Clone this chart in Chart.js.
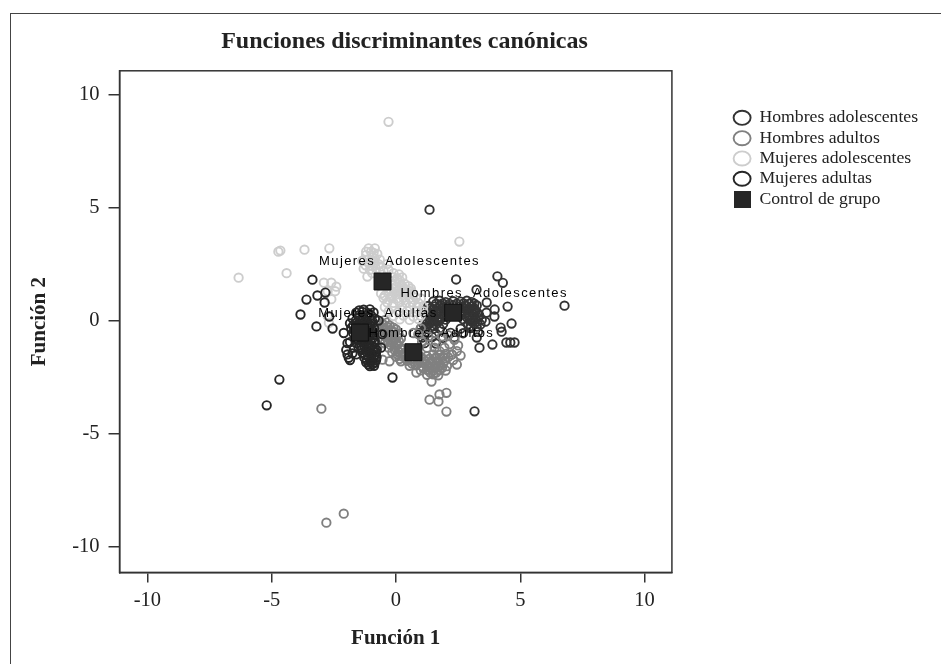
<!DOCTYPE html>
<html>
<head>
<meta charset="utf-8">
<title>Funciones discriminantes canónicas</title>
<script src="https://cdn.jsdelivr.net/npm/chart.js@4"></script>
<style>
  html, body { margin: 0; padding: 0; background: #fff; overflow: hidden; }
  #marco { position: absolute; left: 10px; top: 13px; width: 1000px; height: 700px; border: 1.5px solid #444; }
  #grafico { position: absolute; left: 0; top: 0; }
</style>
</head>
<body>
<div id="marco"></div>
<canvas id="grafico" width="941" height="664"></canvas>
<script>
const titulo = "Funciones discriminantes canónicas";
const tituloX = "Función 1";
const tituloY = "Función 2";
const ticksX = [-10, -5, 0, 5, 10];
const ticksY = [-10, -5, 0, 5, 10];

const hombresAdolescentes = [
  [1.35,4.91],[2.42,1.82],[3.24,1.37],[4.08,1.96],[4.3,1.67],[3.65,0.8],[3.97,0.49],[4.49,0.62],[3.96,0.18],[4.65,-0.13],
  [4.21,-0.31],[4.25,-0.49],[3.88,-1.06],[3.36,-1.2],[4.44,-0.97],[4.6,-0.97],[4.77,-0.97],[6.78,0.66],[3.64,0.35],[3.3,-0.5],
  [3.16,-4.02],[3.6,-0.05],
  [1.5,0.85],[1.75,0.88],[2.0,0.82],[2.3,0.86],[2.6,0.84],[2.85,0.88],[3.05,0.82],
  [1.3,0.65],[1.55,0.62],[1.8,0.67],[2.05,0.64],[2.3,0.66],[2.55,0.63],[2.8,0.66],[3.05,0.62],[3.25,0.67],
  [1.2,0.45],[1.45,0.47],[1.7,0.43],[1.95,0.46],[2.2,0.44],[2.45,0.47],[2.7,0.43],[2.95,0.46],[3.2,0.44],
  [1.2,0.25],[1.42,0.22],[1.65,0.27],[1.9,0.24],[2.15,0.26],[2.4,0.23],[2.65,0.27],[2.9,0.24],[3.15,0.26],[3.35,0.23],
  [1.25,0.05],[1.5,0.03],[1.75,0.07],[2.0,0.04],[2.7,0.06],[2.95,0.03],[3.2,0.07],[3.45,0.04],
  [1.1,-0.15],[1.35,-0.13],[1.6,-0.17],[1.9,-0.14],[2.9,-0.16],[3.15,-0.13],[3.4,-0.17],
  [1.0,-0.35],[1.2,-0.33],[1.5,-0.37],[1.75,-0.34],[2.6,-0.36],[3.0,-0.33],
  [0.95,-0.55],[1.3,-0.53],[1.6,-0.57],[2.2,-0.54],[2.7,-0.56],[3.25,-0.75],
  [1.05,-0.75],[1.45,-0.73],[1.9,-0.77],[2.35,-0.74],[1.15,-1.0],[1.6,-1.02],
  [1.62,0.75],[1.88,0.76],[2.15,0.74],[2.45,0.75],[2.72,0.76],[2.95,0.74],[3.15,0.75],[1.42,0.55],[1.68,0.54],[1.92,0.56],
  [2.18,0.55],[2.42,0.54],[2.68,0.56],[2.92,0.55],[3.15,0.54],[1.32,0.35],[1.58,0.36],[1.82,0.34],[2.08,0.35],[2.32,0.36],
  [2.55,0.34],[2.8,0.35],[3.05,0.36],[3.28,0.34],[1.32,0.14],[1.55,0.15],[1.85,0.13],[2.85,0.15],[3.08,0.14],[3.3,0.13],
  [1.22,-0.04],[1.48,-0.05],[1.72,-0.03],[3.05,-0.05],[3.28,-0.04],[3.0,-0.25],[3.25,-0.27],[1.25,-0.24],[1.5,-0.25]
];
const hombresAdultos = [
  [-2.8,-8.95],[-2.1,-8.55],[-3.0,-3.9],[1.35,-3.5],[1.75,-3.27],[2.03,-3.2],[1.71,-3.58],[2.03,-4.03],[1.43,-2.7],[0.82,-2.3],
  [-0.54,-1.73],[-0.26,-1.8],[-0.75,-1.2],
  [-0.7,0.0],[-0.45,0.02],[-0.75,-0.2],[-0.5,-0.18],[-0.25,-0.22],
  [-0.7,-0.4],[-0.45,-0.38],[-0.2,-0.42],[0.0,-0.39],[-0.65,-0.6],[-0.4,-0.58],[-0.15,-0.62],[0.1,-0.59],
  [-0.55,-0.8],[-0.3,-0.78],[-0.05,-0.82],[0.2,-0.79],[-0.45,-1.0],[-0.2,-0.98],[0.05,-1.02],
  [-0.3,-1.2],[-0.05,-1.18],[0.2,-1.22],[-0.15,-1.4],[0.1,-1.38],[0.35,-1.42],
  [0.0,-1.6],[0.25,-1.58],[0.5,-1.62],[0.75,-1.59],[1.0,-1.61],[1.25,-1.58],
  [0.2,-1.8],[0.45,-1.78],[0.7,-1.82],[0.95,-1.79],[1.2,-1.81],[1.45,-1.78],[1.7,-1.82],[1.95,-1.79],
  [0.55,-2.0],[0.8,-1.98],[1.05,-2.02],[1.3,-1.99],[1.55,-2.01],[1.8,-1.98],[2.05,-2.02],
  [1.0,-2.2],[1.25,-2.18],[1.5,-2.22],[1.75,-2.19],[2.0,-2.21],[1.25,-2.4],[1.5,-2.38],[1.7,-2.42],
  [1.5,-1.5],[1.75,-1.52],[2.0,-1.48],[2.25,-1.51],
  [1.6,-0.9],[1.85,-0.7],[2.1,-0.65],[2.35,-0.85],[2.5,-1.1],[2.45,-1.35],[2.25,-1.5],[1.95,-1.2],[2.15,-1.05],[1.75,-1.35],
  [1.55,-1.2],[2.6,-1.55],[2.3,-1.75],[2.45,-1.95],[1.3,-0.7],[1.05,-0.95],[1.25,-1.2],[0.9,-0.6],[1.0,-0.35],[0.7,-0.55],
  [-0.58,-0.1],[-0.35,-0.09],[-0.6,-0.3],[-0.35,-0.28],[-0.1,-0.31],[-0.55,-0.5],[-0.3,-0.49],[-0.05,-0.51],[-0.45,-0.7],[-0.2,-0.69],
  [0.05,-0.71],[-0.32,-0.9],[-0.1,-0.89],[0.12,-0.91],[-0.2,-1.1],[0.05,-1.09],[-0.05,-1.3],[0.2,-1.29],[0.05,-1.5],[0.3,-1.49],
  [0.15,-1.7],[0.4,-1.69],[0.62,-1.71],[0.88,-1.7],[1.1,-1.7],[1.35,-1.69],[1.6,-1.68],[0.65,-1.9],[0.9,-1.89],[1.15,-1.91],
  [1.4,-1.9],[1.65,-1.89],[1.9,-1.9],[1.1,-2.1],[1.35,-2.09],[1.6,-2.11],[1.85,-2.1],[1.38,-2.3],[1.62,-2.3],[1.62,-1.62],
  [1.88,-1.61],[2.1,-1.62]
];
const mujeresAdolescentes = [
  [-0.3,8.8],[-6.33,1.9],[-4.73,3.05],[-4.65,3.1],[-3.68,3.14],[-2.68,3.2],[-4.4,2.1],[2.55,3.5],
  [-2.9,1.68],[-2.6,1.68],[-2.45,1.3],[-2.6,0.95],[-2.75,0.2],[-2.7,-0.1],[-2.4,1.5],[-2.75,1.3],
  [-1.1,3.2],[-1.0,3.05],[-0.85,3.2],[-1.2,2.9],[-0.95,2.8],[-0.75,2.95],[-1.35,2.65],[-1.1,2.55],[-0.85,2.55],[-0.65,2.7],
  [-1.3,2.3],[-1.05,2.25],[-0.8,2.3],[-0.6,2.4],[-0.5,2.2],[-1.15,1.95],[-0.35,2.5],
  [-0.4,1.9],[-0.15,1.92],[0.05,1.88],[0.25,1.91],[-0.05,1.65],[0.15,1.67],[0.35,1.63],
  [-0.1,1.4],[0.15,1.42],[0.4,1.38],[0.6,1.41],[-0.6,1.2],[-0.3,1.18],[-0.05,1.22],[0.2,1.19],[0.45,1.21],[0.7,1.18],
  [-0.5,1.0],[-0.2,1.02],[0.05,0.98],[0.3,1.01],[0.55,0.99],[0.8,1.02],[1.0,0.98],
  [-0.35,0.8],[-0.1,0.78],[0.15,0.82],[0.4,0.79],[0.65,0.81],[0.9,0.78],
  [-0.45,0.6],[-0.15,0.62],[0.25,0.58],[0.55,0.61],[0.85,0.59],[1.1,0.62],
  [-0.3,0.4],[0.1,0.38],[0.45,0.42],[0.8,0.39],[1.1,0.41],[-0.1,0.2],[0.3,0.22],[0.7,0.18],[1.0,0.21],[0.15,0.05],[0.55,0.03],[0.9,0.07],
  [-1.2,3.05],[-0.9,3.0],[-1.1,2.72],[-0.85,2.75],[-1.22,2.45],[-0.95,2.42],[-0.7,2.5],[-0.95,2.1],[-0.65,2.15],[-0.3,2.25],
  [-0.1,2.1],[0.12,2.05],[0.15,1.78],[0.0,1.5],[0.25,1.53],[0.5,1.52],[-0.2,1.3],[0.05,1.3],[0.32,1.3],[0.58,1.3],[-0.45,1.1],[-0.15,1.1]
];
const mujeresAdultas = [
  [-3.36,1.81],[-2.84,1.24],[-3.16,1.11],[-3.6,0.93],[-2.87,0.8],[-3.84,0.27],[-2.68,0.18],[-3.2,-0.26],[-2.55,-0.35],[-2.1,-0.55],
  [-4.69,-2.61],[-5.2,-3.75],[-0.14,-2.52],
  [-1.6,0.35],[-1.35,0.38],[-1.1,0.33],[-0.9,0.36],[-1.75,0.1],[-1.5,0.12],[-1.3,0.08],[-1.05,0.11],[-0.85,0.09],
  [-1.85,-0.12],[-1.6,-0.1],[-1.4,-0.14],[-1.15,-0.11],[-0.95,-0.13],[-1.8,-0.33],[-1.55,-0.31],[-1.3,-0.35],[-1.08,-0.32],[-0.88,-0.34],
  [-1.72,-0.55],[-1.45,-0.53],[-1.22,-0.57],[-1.0,-0.54],[-1.63,-0.78],[-1.38,-0.76],[-1.15,-0.8],[-0.92,-0.77],
  [-1.6,-1.0],[-1.32,-0.98],[-1.1,-1.02],[-0.88,-0.99],[-1.5,-1.2],[-1.27,-1.18],[-1.03,-1.22],[-0.85,-1.19],
  [-1.35,-1.42],[-1.18,-1.4],[-0.98,-1.44],[-0.8,-1.41],[-1.28,-1.63],[-1.1,-1.61],[-0.9,-1.65],[-0.78,-1.62],
  [-1.2,-1.85],[-1.02,-1.83],[-0.85,-1.87],[-1.05,-2.02],[-0.88,-2.0],
  [-1.95,-1.0],[-2.0,-1.3],[-1.9,-1.65],[-1.95,-1.5],[-1.85,-1.75],[-1.85,-0.95],[-1.7,-1.2],[-1.75,-1.45],[-1.6,-1.5],
  [-0.55,-0.6],[-0.6,-1.2],[-0.7,0.0],
  [-1.48,0.24],[-1.22,0.22],[-1.0,0.23],[-1.62,0.0],[-1.4,-0.02],[-1.18,-0.01],[-0.95,-0.02],[-1.72,-0.22],[-1.5,-0.23],[-1.28,-0.24],
  [-1.05,-0.22],[-1.68,-0.44],[-1.42,-0.43],[-1.2,-0.45],[-0.98,-0.44],[-1.6,-0.66],[-1.35,-0.65],[-1.1,-0.67],[-0.92,-0.65],[-1.5,-0.88],
  [-1.25,-0.89],[-1.02,-0.88],[-0.85,-0.9],[-1.45,-1.1],[-1.2,-1.09],[-0.97,-1.11],[-1.38,-1.3],[-1.15,-1.31],[-0.92,-1.3],[-0.78,-1.3],
  [-1.25,-1.52],[-1.02,-1.51],[-0.85,-1.53],[-1.18,-1.74],[-0.97,-1.74],[-0.8,-1.75],[-1.1,-1.95],[-0.95,-1.93],[-1.3,0.48],[-1.05,0.5],[-1.48,0.45]
];
const centroides = [[2.3,0.35],[0.7,-1.4],[-0.54,1.73],[-1.45,-0.53]];
const nombresCentroides = ["Hombres  Adolescentes", "Hombres  Adultos", "Mujeres  Adolescentes", "Mujeres  Adultas"];

function aPuntos(lista) {
  return lista.map(function (p) { return { x: p[0], y: p[1] }; });
}

function serie(label, datos, color, orden) {
  return {
    label: label,
    data: aPuntos(datos),
    borderColor: color,
    backgroundColor: "transparent",
    borderWidth: 1.9,
    pointStyle: "circle",
    pointRadius: 4.2,
    order: orden,
  };
}

// Cuadrado de la leyenda para "Control de grupo"
const cuadroLeyenda = document.createElement("canvas");
cuadroLeyenda.width = 17;
cuadroLeyenda.height = 17;
const ctxCuadro = cuadroLeyenda.getContext("2d");
ctxCuadro.fillStyle = "#262626";
ctxCuadro.fillRect(0, 0, 17, 17);

// Caja del area de trazado y etiquetas de los centroides
const desfaseEtiquetas = [[31, -19], [18, -19], [17, -20], [18, -19]];
const cajaYEtiquetas = {
  id: "cajaYEtiquetas",
  afterLayout: function (chart) {
    // La leyenda queda separada del area de trazado
    const ancho = chart.legend.right - chart.legend.left;
    chart.legend.left = 731;
    chart.legend.right = 731 + ancho;
    // El titulo se centra sobre el grafico, no sobre todo el lienzo
    chart.titleBlock.left -= 43.5;
    chart.titleBlock.right -= 43.5;
  },
  afterDatasetsDraw: function (chart) {
    const ctx = chart.ctx;
    const a = chart.chartArea;
    ctx.save();
    ctx.strokeStyle = "#333";
    ctx.lineWidth = 1.5;
    ctx.strokeRect(a.left, a.top, a.right - a.left, a.bottom - a.top);
    ctx.fillStyle = "#000";
    ctx.font = '13px "Liberation Sans"';
    ctx.letterSpacing = "1.4px";
    ctx.textAlign = "center";
    ctx.textBaseline = "middle";
    nombresCentroides.forEach(function (nombre, i) {
      const px = chart.scales.x.getPixelForValue(centroides[i][0]);
      const py = chart.scales.y.getPixelForValue(centroides[i][1]);
      ctx.fillText(nombre, px + desfaseEtiquetas[i][0], py + desfaseEtiquetas[i][1]);
    });
    ctx.restore();
  },
};

new Chart(document.getElementById("grafico"), {
  type: "scatter",
  data: {
    datasets: [
      serie("Hombres adolescentes", hombresAdolescentes, "#333333", 4),
      serie("Hombres adultos", hombresAdultos, "#808080", 3),
      serie("Mujeres adolescentes", mujeresAdolescentes, "#cdcdcd", 2),
      serie("Mujeres adultas", mujeresAdultas, "#262626", 1),
      {
        label: "Control de grupo",
        data: aPuntos(centroides),
        borderColor: "#111",
        backgroundColor: "#262626",
        borderWidth: 1,
        pointStyle: "rect",
        pointRadius: 12,
        order: 0,
      },
    ],
  },
  options: {
    responsive: false,
    animation: false,
    layout: { padding: { left: 27, right: 72, top: 0, bottom: 13 } },
    plugins: {
      tooltip: { enabled: false },
      title: {
        display: true,
        text: titulo,
        color: "#222",
        font: { family: "Liberation Serif", size: 24, weight: "bold" },
        padding: { top: 27, bottom: 15 },
      },
      legend: {
        position: "right",
        align: "start",
        title: { display: true, text: "", padding: 46, font: { size: 12 } },
        labels: {
          usePointStyle: true,
          pointStyleWidth: 17,
          boxHeight: 10,
          padding: 2.6,
          color: "#222",
          font: { family: "Liberation Serif", size: 17.7 },
          sort: function (a, b) { return a.datasetIndex - b.datasetIndex; },
          generateLabels: function (chart) {
            const items = Chart.defaults.plugins.legend.labels.generateLabels(chart);
            items.forEach(function (item) {
              if (item.text === "Control de grupo") {
                item.pointStyle = cuadroLeyenda;
              }
            });
            return items;
          },
        },
      },
    },
    scales: {
      x: {
        type: "linear",
        min: -11.12,
        max: 11.1,
        afterBuildTicks: function (axis) {
          axis.ticks = ticksX.map(function (v) { return { value: v }; });
        },
        grid: { drawOnChartArea: false, tickLength: 10, color: "#333", lineWidth: 1.5 },
        border: { color: "#333", width: 1.5 },
        ticks: { color: "#222", padding: 6, maxRotation: 0, font: { family: "Liberation Serif", size: 20.5 } },
        title: {
          display: true,
          text: tituloX,
          color: "#222",
          font: { family: "Liberation Serif", size: 21, weight: "bold" },
          padding: { top: 6.8, bottom: 0 },
        },
      },
      y: {
        type: "linear",
        min: -11.15,
        max: 11.06,
        afterBuildTicks: function (axis) {
          axis.ticks = ticksY.map(function (v) { return { value: v }; });
        },
        grid: { drawOnChartArea: false, tickLength: 11, color: "#333", lineWidth: 1.5 },
        border: { color: "#333", width: 1.5 },
        ticks: { color: "#222", padding: 9, font: { family: "Liberation Serif", size: 20.5 } },
        title: {
          display: true,
          text: tituloY,
          color: "#222",
          font: { family: "Liberation Serif", size: 21, weight: "bold" },
          padding: { top: 0, bottom: 11 },
        },
      },
    },
  },
  plugins: [cajaYEtiquetas],
});
</script>
</body>
</html>
